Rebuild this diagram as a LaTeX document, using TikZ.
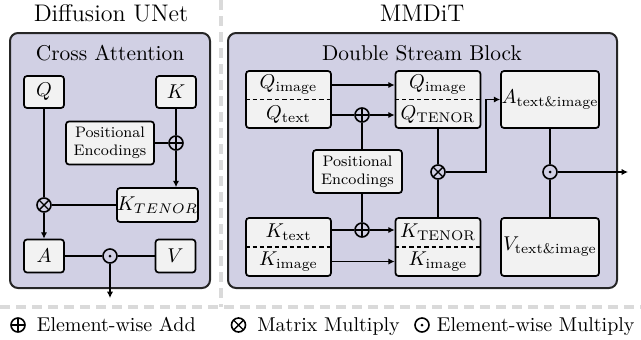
\documentclass[tikz,border=0pt]{standalone}
\usepackage{amsmath}
\usetikzlibrary{arrows.meta,calc}
\definecolor{blockbg}{HTML}{D1D0E4}
\definecolor{nodebg}{HTML}{F2F2F2}
\definecolor{sepgray}{HTML}{DADADA}
\begin{document}
\begin{tikzpicture}[x=0.5pt,y=-0.5pt,
 outer/.style={draw=black!85,line width=1pt,fill=blockbg,rounded corners=4pt,inner sep=0},
 box/.style={draw=black,line width=0.85pt,fill=nodebg,rounded corners=1.5pt,inner sep=0,font=\fontsize{10}{12}\selectfont},
 lbl/.style={inner sep=0,font=\fontsize{10}{12}\selectfont},
 pe/.style={box,align=center,font=\fontsize{7.6}{9}\selectfont},
 opbase/.style={circle,draw=black,line width=0.8pt,minimum size=7pt,inner sep=0},
 oplusn/.style={opbase,path picture={\draw[line width=0.7pt] (path picture bounding box.north) -- (path picture bounding box.south) (path picture bounding box.west) -- (path picture bounding box.east);}},
 otimesn/.style={opbase,path picture={\draw[line width=0.7pt] (path picture bounding box.north west) -- (path picture bounding box.south east) (path picture bounding box.south west) -- (path picture bounding box.north east);}},
 odotn/.style={opbase,path picture={\fill (path picture bounding box.center) circle (0.75pt);}},
 conn/.style={line width=0.8pt},
 arr/.style={conn,-{Latex[length=3.2pt,width=3.2pt]}},
 divider/.style={line width=0.7pt,dash pattern=on 2.2pt off 1.5pt},
 sep/.style={draw=sepgray,line width=1.6pt,dash pattern=on 5pt off 3pt},
 bigtitle/.style={inner sep=0,anchor=base,font=\fontsize{12}{14}\selectfont},
 blocktitle/.style={inner sep=0,anchor=base,font=\fontsize{10.7}{13}\selectfont},
]
\useasboundingbox (0,0) rectangle (641,339);
% separators
\coordinate (sv1) at (221,0);
\coordinate (sv2) at (221,307);
\coordinate (sh1) at (0,307);
\coordinate (sh2) at (641,307);
\draw[sep] (sv1) -- (sv2);
\draw[sep] (sh1) -- (sh2);

% ---------------- left: Diffusion UNet
\node[outer,minimum width=100pt,minimum height=127.5pt] (lb) at (110,160.5) {};
\node[bigtitle] (t1) at (111,21) {Diffusion UNet};
\node[blocktitle] (t2) at (110,60) {Cross Attention};
\node[box,minimum width=20pt,minimum height=16pt] (q) at (44,92) {$Q$};
\node[box,minimum width=20pt,minimum height=16pt] (k) at (176,92) {$K$};
\node[pe,minimum width=44pt,minimum height=21.5pt] (pe1) at (110,143) {Positional\\Encodings};
\node[oplusn] (ap1) at (176,143) {};
\node[box,minimum width=36.5pt,minimum height=17pt] (kt) at (157.5,205) {$K_{TENOR}$};
\node[otimesn] (mm1) at (44,205) {};
\node[box,minimum width=20pt,minimum height=16.5pt] (a) at (44,256) {$A$};
\node[box,minimum width=20pt,minimum height=16.5pt] (v) at (175.5,256) {$V$};
\node[odotn] (em1) at (110,256) {};
\coordinate (out1) at (110,298);

\draw[conn] (q) -- (mm1);
\draw[arr] (mm1) -- (a);
\draw[conn] (k) -- (ap1);
\draw[arr] (ap1) -- (ap1 |- kt.north);
\draw[conn] (pe1) -- (ap1);
\draw[conn] (kt) -- (mm1);
\draw[conn] (a) -- (em1) -- (v);
\draw[arr] (em1) -- (out1);

% ---------------- right: MMDiT
\node[outer,minimum width=194.5pt,minimum height=127.5pt] (rb) at (422.5,160.5) {};
\node[bigtitle] (t3) at (422,21) {MMDiT};
\node[blocktitle] (t4) at (422,60) {Double Stream Block};

\node[box,minimum width=42.5pt,minimum height=28.5pt] (ql) at (288.5,99.5) {};
\draw[divider] (ql.west) -- (ql.east);
\node[lbl] (qli) at (288.5,85) {$Q_\text{image}$};
\node[lbl] (qlt) at (288.5,114.5) {$Q_\text{text}$};

\node[box,minimum width=42.5pt,minimum height=28.5pt] (qr) at (438,99.5) {};
\draw[divider] (qr.west) -- (qr.east);
\node[lbl] (qri) at (438,85) {$Q_\text{image}$};
\node[lbl] (qrt) at (438,114.5) {$Q_\text{TENOR}$};

\node[box,minimum width=49pt,minimum height=28.5pt] (aa) at (550,99.5) {$A_\text{text\&image}$};

\node[pe,minimum width=44.5pt,minimum height=21.5pt] (pe2) at (357.5,171.5) {Positional\\Encodings};
\node[oplusn] (ap2) at (362,115) {};
\node[oplusn] (ap3) at (362,230) {};

\node[box,minimum width=42.5pt,minimum height=29pt] (kl) at (288.5,247) {};
\draw[divider] (kl.west) -- (kl.east);
\node[lbl] (klt) at (288.5,232) {$K_\text{text}$};
\node[lbl] (kli) at (288.5,261.5) {$K_\text{image}$};

\node[box,minimum width=42.5pt,minimum height=29pt] (kr) at (438,247) {};
\draw[divider] (kr.west) -- (kr.east);
\node[lbl] (krt) at (438,232) {$K_\text{TENOR}$};
\node[lbl] (kri) at (438,261.5) {$K_\text{image}$};

\node[box,minimum width=49pt,minimum height=29pt] (vv) at (550,247) {$V_\text{text\&image}$};

\node[otimesn] (mm2) at (438,172) {};
\node[odotn] (em2) at (550,172) {};
\coordinate (bend) at (486,99.5);
\coordinate (out2) at (628,172);

\draw[arr] (ql.east |- qli) -- (qr.west |- qli);
\draw[conn] (ql.east |- ap2) -- (ap2);
\draw[arr] (ap2) -- (qr.west |- ap2);
\draw[conn] (ap2) -- (ap2 |- pe2.north);
\draw[conn] (ap3 |- pe2.south) -- (ap3);
\draw[conn] (kl.east |- ap3) -- (ap3);
\draw[arr] (ap3) -- (kr.west |- ap3);
\draw[arr] (kl.east |- kli) -- (kr.west |- kli);
\draw[conn] (qr.south) -- (mm2) -- (kr.north);
\draw[arr] (mm2) -| (bend) -- (aa.west);
\draw[conn] (aa.south) -- (em2) -- (vv.north);
\draw[arr] (em2) -- (out2);

% ---------------- legend
\node[oplusn,minimum size=7pt] (lg1) at (18,325) {};
\node[lbl,anchor=base west] (lt1) at (36.5,331) {Element-wise Add};
\node[otimesn,minimum size=7pt] (lg2) at (238.5,325) {};
\node[lbl,anchor=base west] (lt2) at (257,331) {Matrix Multiply};
\node[odotn,minimum size=7pt] (lg3) at (422,325) {};
\node[lbl,anchor=base west] (lt3) at (436.5,331) {Element-wise Multiply};
\end{tikzpicture}
\end{document}
